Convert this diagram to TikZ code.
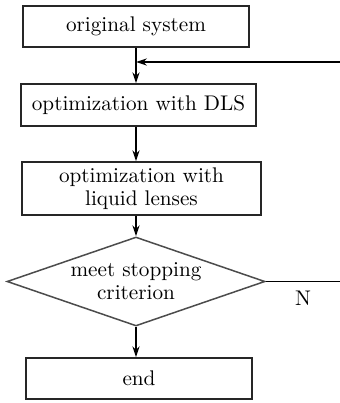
\documentclass[tikz,border=0pt]{standalone}
\usetikzlibrary{
  shapes.geometric,
  arrows.meta,
  positioning,
  calc
}
\tikzset{
  % Process boxes
  procnode/.style={
    rectangle,
    draw=black!85,
    line width=0.75pt,
    align=center,
    inner sep=2pt,
    font=\fontsize{10.6}{11.6}\selectfont
  },
  % Decision diamond
  decnode/.style={
    diamond,
    draw=black!70,
    line width=0.75pt,
    aspect=2.9,
    inner sep=0pt,
    align=center,
    minimum width=129pt,
    minimum height=44.5pt,
    font=\fontsize{10.6}{11.6}\selectfont
  },
  % Flow arrow
  flowarrow/.style={
    -{Stealth[length=5.5pt,width=3.6pt]},
    line width=0.65pt,
    black
  },
  % Plain line
  flowline/.style={
    line width=0.65pt,
    black
  }
}

\begin{document}
\begin{tikzpicture}[x=0.5pt, y=-0.5pt]

\useasboundingbox (0,0) rectangle (340,403);

%% === Process chain ===
\node[procnode, minimum width=113pt, minimum height=20.5pt] (orig) at (136, 26.5) {original system};
\node[procnode, minimum width=117.5pt, minimum height=21pt] (dls) at (138.5, 105) {optimization with DLS};
\node[procnode, minimum width=119.5pt, minimum height=26.5pt] (liquid) at (141.5, 188.5)
  {optimization with\\liquid lenses};
\node[decnode] (crit) at (136, 281.5) {meet stopping\\criterion};
\node[procnode, minimum width=113pt, minimum height=20.5pt] (finish) at (139, 378.5) {end};

% Arrows down the chain
\draw[flowarrow] (orig.south) -- (orig.south |- dls.north);
\draw[flowarrow] (dls.south -| orig.south) -- (orig.south |- liquid.north);
\draw[flowarrow] (liquid.south -| crit.north) -- (crit.north);
\draw[flowarrow] (crit.south) -- (crit.south |- finish.north);

%% === Feedback loop ===
\coordinate (loopout) at (340, 281.5);
\coordinate (loopin) at (340, 62);
\draw[flowline] (crit.east) -- (loopout);
\draw[flowarrow] (loopin) -- (loopin -| orig.south);
\node[font=\fontsize{10.6}{11.6}\selectfont] (nolabel) at (303, 298) {N};

\end{tikzpicture}
\end{document}
